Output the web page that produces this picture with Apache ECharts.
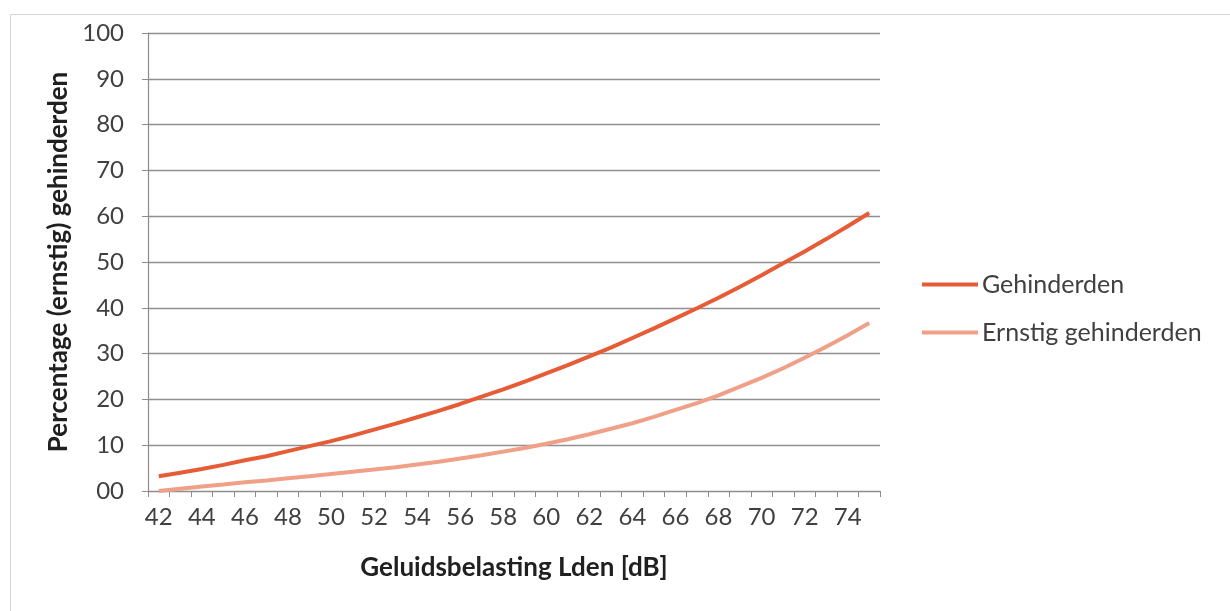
<!DOCTYPE html>
<html>
<head>
<meta charset="utf-8">
<script src="https://cdn.jsdelivr.net/npm/echarts@6/dist/echarts.min.js"></script>
<style>
html,body{margin:0;padding:0;background:#fff;}
#chart{width:1230px;height:611px;}
</style>
</head>
<body>
<div id="chart"></div>
<script>
const categories = ['42','43','44','45','46','47','48','49','50','51','52','53','54','55','56','57','58','59','60','61','62','63','64','65','66','67','68','69','70','71','72','73','74','75'];
const gehinderden = [3.2,4.0,4.8,5.7,6.7,7.6,8.7,9.8,10.9,12.1,13.4,14.7,16.1,17.5,19.0,20.6,22.2,23.9,25.7,27.5,29.4,31.3,33.4,35.5,37.7,39.9,42.2,44.6,47.1,49.7,52.3,55.0,57.8,60.7];
const ernstigGehinderden = [0.0,0.5,1.0,1.4,1.9,2.3,2.8,3.2,3.7,4.2,4.7,5.2,5.8,6.4,7.1,7.8,8.6,9.4,10.3,11.3,12.4,13.6,14.8,16.2,17.7,19.2,20.9,22.8,24.7,26.8,29.1,31.5,34.0,36.7];
const yTicks = [0,10,20,30,40,50,60,70,80,90,100];

const chart = echarts.init(document.getElementById('chart'), null, {renderer:'canvas'});
const labelFont = 'Lato, "Open Sans", sans-serif';
chart.setOption({
  animation:false,
  backgroundColor:'#ffffff',
  graphic:[{
    type:'rect', left:8, top:12, z:-10,
    shape:{x:0,y:0,width:1240,height:620},
    style:{fill:'none', stroke:'#d4d4d4', lineWidth:1}
  }],
  grid:{left:148, right:350, top:33, bottom:120},
  legend:{
    orient:'vertical', left:917, top:267, itemGap:23,
    icon:'rect', itemWidth:56, itemHeight:4,
    textStyle:{fontFamily:labelFont, fontSize:25, color:'#404040', padding:[0,0,0,-1]},
    data:['Gehinderden','Ernstig gehinderden']
  },
  xAxis:{
    type:'category', data:categories, boundaryGap:true,
    name:'Geluidsbelasting Lden [dB]', nameLocation:'middle', nameGap:64,
    nameTextStyle:{fontFamily:labelFont, fontWeight:'bold', fontSize:26, color:'#202020'},
    axisLine:{lineStyle:{color:'#8c8c8c', width:1.2}},
    axisTick:{show:true, interval:0, length:6, lineStyle:{color:'#8c8c8c'}},
    axisLabel:{interval:1, margin:14, fontFamily:labelFont, fontSize:24, color:'#404040'},
    splitLine:{show:false}
  },
  yAxis:{
    type:'value', min:0, max:100, interval:10,
    name:'Percentage (ernstig) gehinderden', nameLocation:'middle', nameGap:75,
    nameTextStyle:{fontFamily:labelFont, fontWeight:'bold', fontSize:26, color:'#202020'},
    axisLine:{show:true, lineStyle:{color:'#8c8c8c', width:1.2}},
    axisTick:{show:true, length:6, lineStyle:{color:'#8c8c8c'}},
    axisLabel:{margin:24, fontFamily:labelFont, fontSize:24, color:'#404040',
      formatter:function(v){ return yTicks.indexOf(v) >= 0 ? (v === 0 ? '00' : String(v)) : ''; }},
    splitLine:{show:true, lineStyle:{color:'#8f8f8f', width:1.3}}
  },
  series:[
    {name:'Gehinderden', type:'line', data:gehinderden, showSymbol:false, symbol:'none',
     lineStyle:{color:'#e65c36', width:4}, itemStyle:{color:'#e65c36'}},
    {name:'Ernstig gehinderden', type:'line', data:ernstigGehinderden, showSymbol:false, symbol:'none',
     lineStyle:{color:'#f1a088', width:4}, itemStyle:{color:'#f1a088'}}
  ]
});
</script>
</body>
</html>
